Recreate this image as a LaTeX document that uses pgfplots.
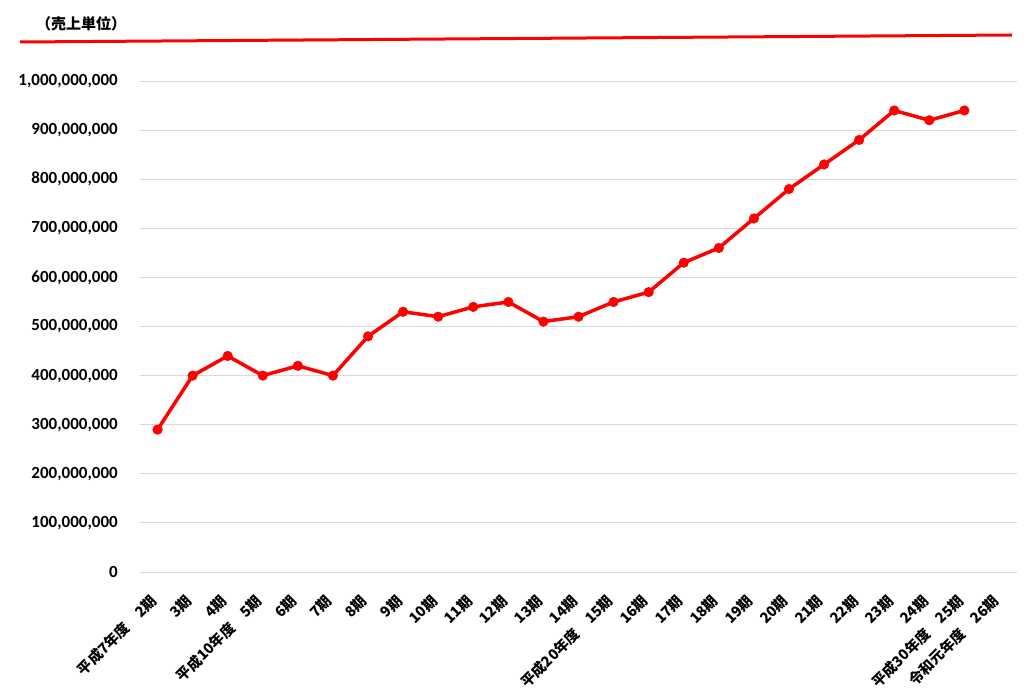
\documentclass[border=0pt]{standalone}
\usepackage{fontspec}
\setmainfont{Carlito}
\newfontfamily\jp{Noto Sans CJK JP}
\usepackage{pgfplots}
\pgfplotsset{compat=1.18}
\definecolor{lineRed}{RGB}{255,0,0}
\definecolor{gridGray}{RGB}{217,217,217}
\begin{document}
\begin{tikzpicture}
\useasboundingbox (0pt,0pt) rectangle (1032pt,-690pt);
\begin{axis}[
  at={(140pt,-572pt)}, anchor=south west,
  width=877pt, height=491pt, scale only axis,
  xmin=-0.5, xmax=24.5, ymin=0, ymax=1000000000,
  xtick={0,...,24},
  xticklabels={{平成7年度　2期},3期,4期,{平成10年度　5期},6期,7期,8期,9期,10期,11期,12期,13期,14期,{平成20年度　15期},16期,17期,18期,19期,20期,21期,22期,23期,24期,{平成30年度　25期},{令和元年度　26期}},
  ytick={0,100000000,200000000,300000000,400000000,500000000,600000000,700000000,800000000,900000000,1000000000},
  ymajorgrids, grid style={gridGray, line width=1pt},
  axis line style={draw=none}, major tick length=0pt,
  scaled y ticks=false,
  x tick label style={rotate=45, anchor=east, inner sep=0pt, xshift=-21pt, yshift=-16pt, font=\jp\bfseries\fontsize{14.5}{14.5}\selectfont},
  y tick label style={inner sep=0pt, xshift=-22pt, font=\bfseries\fontsize{17}{17}\selectfont},
  yticklabel style={/pgf/number format/.cd, fixed, 1000 sep={,}, assume math mode=true},
  clip=false
]
\addplot[lineRed, line width=3.5pt, mark=*, mark size=4.8pt, mark options={solid, fill=lineRed, draw=lineRed, line width=0.5pt}] coordinates {
(0,290000000) (1,400000000) (2,440000000) (3,400000000) (4,420000000) (5,400000000)
(6,480000000) (7,530000000) (8,520000000) (9,540000000) (10,550000000) (11,510000000)
(12,520000000) (13,550000000) (14,570000000) (15,630000000) (16,660000000) (17,720000000)
(18,780000000) (19,830000000) (20,880000000) (21,940000000) (22,920000000) (23,940000000)
};
\end{axis}
\draw[lineRed, line width=3pt] (20pt,-42pt) -- (1012pt,-35pt);
\node[anchor=west, inner sep=0pt, font=\jp\bfseries\fontsize{15}{15}\selectfont] at (36pt,-24pt) {（売上単位）};
\end{tikzpicture}
\end{document}
